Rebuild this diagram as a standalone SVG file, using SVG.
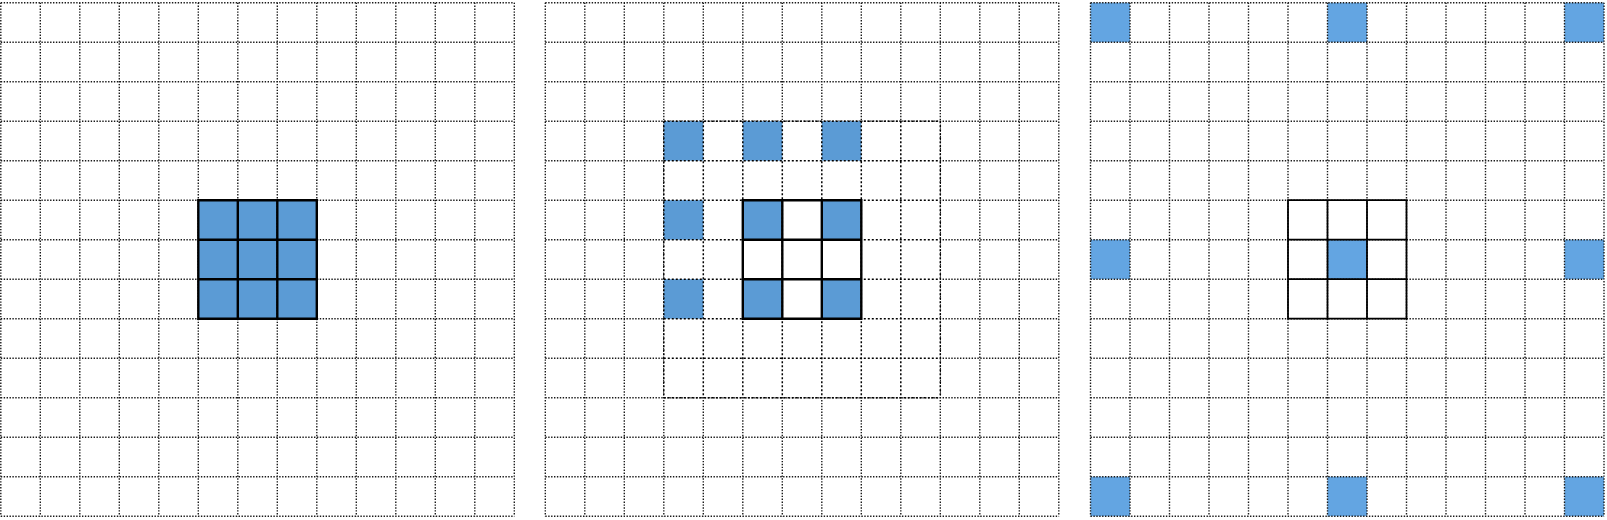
<svg xmlns="http://www.w3.org/2000/svg" xmlns:xlink="http://www.w3.org/1999/xlink" width="1607" height="520" viewBox="0 0 1607 520">
<style>
.dot{fill:none;stroke:#1a1a1a;stroke-width:1.4;stroke-dasharray:1.4 1.5}
.dash{fill:none;stroke:#000;stroke-width:1.5;stroke-dasharray:2 2}
.solid{fill:none;stroke:#000;stroke-width:2.4}
.thin{fill:none;stroke:#000;stroke-width:1.8}
.blue{fill:#5b9bd5}
.blue2{fill:#63a5e2}
</style>
<defs>
<path id="grid" d="M0 0V513.5M39.5 0V513.5M79 0V513.5M118.5 0V513.5M158 0V513.5M197.5 0V513.5M237 0V513.5M276.5 0V513.5M316 0V513.5M355.5 0V513.5M395 0V513.5M434.5 0V513.5M474 0V513.5M513.5 0V513.5M0 0H513.5M0 39.5H513.5M0 79H513.5M0 118.5H513.5M0 158H513.5M0 197.5H513.5M0 237H513.5M0 276.5H513.5M0 316H513.5M0 355.5H513.5M0 395H513.5M0 434.5H513.5M0 474H513.5M0 513.5H513.5"/>
<path id="k3" d="M197.5 197.5H316V316H197.5ZM237 197.5V316M276.5 197.5V316M197.5 237H316M197.5 276.5H316"/>
</defs>
<rect width="1607" height="520" fill="#fff"/>
<g id="grid1" transform="translate(0.8,2.7)">
<rect class="blue" x="197.5" y="197.5" width="118.5" height="118.5"/>
<use xlink:href="#grid" class="dot"/>
<use xlink:href="#k3" class="solid"/>
</g>
<g id="grid2" transform="translate(545.3,2.7)">
<use xlink:href="#grid" class="dot"/>
<rect x="119" y="119" width="275.5" height="275.5" fill="#fff"/>
<rect class="blue" x="118.5" y="118.5" width="39.5" height="39.5"/>
<rect class="blue" x="197.5" y="118.5" width="39.5" height="39.5"/>
<rect class="blue" x="276.5" y="118.5" width="39.5" height="39.5"/>
<rect class="blue" x="118.5" y="197.5" width="39.5" height="39.5"/>
<rect class="blue" x="197.5" y="197.5" width="39.5" height="39.5"/>
<rect class="blue" x="276.5" y="197.5" width="39.5" height="39.5"/>
<rect class="blue" x="118.5" y="276.5" width="39.5" height="39.5"/>
<rect class="blue" x="197.5" y="276.5" width="39.5" height="39.5"/>
<rect class="blue" x="276.5" y="276.5" width="39.5" height="39.5"/>
<path class="dash" d="M118.5 118.5V395M158 118.5V395M197.5 118.5V395M237 118.5V395M276.5 118.5V395M316 118.5V395M355.5 118.5V395M395 118.5V395M118.5 118.5H395M118.5 158H395M118.5 197.5H395M118.5 237H395M118.5 276.5H395M118.5 316H395M118.5 355.5H395M118.5 395H395"/>
<use xlink:href="#k3" class="solid"/>
</g>
<g id="grid3" transform="translate(1090.5,2.7)">
<rect class="blue2" x="0" y="0" width="39.5" height="39.5"/>
<rect class="blue2" x="237" y="0" width="39.5" height="39.5"/>
<rect class="blue2" x="474" y="0" width="39.5" height="39.5"/>
<rect class="blue2" x="0" y="237" width="39.5" height="39.5"/>
<rect class="blue2" x="237" y="237" width="39.5" height="39.5"/>
<rect class="blue2" x="474" y="237" width="39.5" height="39.5"/>
<rect class="blue2" x="0" y="474" width="39.5" height="39.5"/>
<rect class="blue2" x="237" y="474" width="39.5" height="39.5"/>
<rect class="blue2" x="474" y="474" width="39.5" height="39.5"/>
<use xlink:href="#grid" class="dot"/>
<use xlink:href="#k3" class="thin"/>
</g>
</svg>
